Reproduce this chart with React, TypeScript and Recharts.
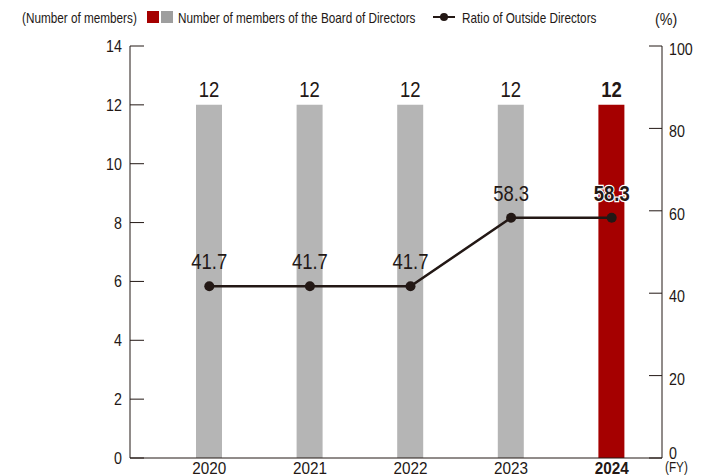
import React from "react"
import { ComposedChart, Bar, Line, XAxis, YAxis, LabelList, Cell } from "recharts"

const years = ["2020", "2021", "2022", "2023", "2024"]
const members = [12, 12, 12, 12, 12]
const outsideRatio = [41.7, 41.7, 41.7, 58.3, 58.3]
const leftTicks = [0, 2, 4, 6, 8, 10, 12, 14]
const rightTicks = [0, 20, 40, 60, 80, 100]

const data = years.map((year, i) => ({
  year,
  members: members[i],
  ratio: outsideRatio[i],
}))

const FONT = "'Liberation Sans', Arial, sans-serif"
const INK = "#231815"
const GRAY = "#b5b5b5"
const RED = "#a50000"
const SQUEEZE = 0.84
const lastIndex = years.length - 1

// narrow text, to look like the condensed face of the original
const NText = ({ x, y, anchor = "start", size = 16, bold = false, halo = false, sx = SQUEEZE, children }: any) => (
  <text
    transform={`translate(${x},${y}) scale(${sx},1)`}
    textAnchor={anchor}
    fontSize={size}
    fontWeight={bold ? 700 : 400}
    fill={INK}
    stroke={halo ? "#fff" : "none"}
    strokeWidth={halo ? 2.5 : 0}
    paintOrder="stroke"
    fontFamily={FONT}
  >
    {children}
  </text>
)

const LeftTick = (props: any) => {
  const { y, payload } = props
  return (
    <g>
      <line x1={130} x2={144} y1={y} y2={y} stroke={INK} strokeWidth={1} />
      <NText x={122} y={y + 6} anchor="end" size={17}>{payload.value}</NText>
    </g>
  )
}

const RightTick = (props: any) => {
  const { y, payload } = props
  // the bottom label sits a little higher so it clears "(FY)"
  const dy = payload.value === 0 ? 1 : 9
  return (
    <g>
      <line x1={649} x2={662} y1={y} y2={y} stroke={INK} strokeWidth={1} />
      <NText x={669} y={y + dy} size={17}>{payload.value}</NText>
    </g>
  )
}

const XTick = (props: any) => {
  const { x, payload, index } = props
  return (
    <NText x={x} y={474} anchor="middle" size={17} bold={index === lastIndex} sx={0.9}>
      {payload.value}
    </NText>
  )
}

const BarValue = (props: any) => {
  const { x, y, width, value, index } = props
  return (
    <NText x={x + width / 2} y={y - 8} anchor="middle" size={22} bold={index === lastIndex}>
      {value}
    </NText>
  )
}

const LineValue = (props: any) => {
  const { x, y, value, index } = props
  const bold = index === lastIndex
  return (
    <NText x={x} y={y - 17} anchor="middle" size={22} bold={bold} halo={bold}>
      {Number(value).toFixed(1)}
    </NText>
  )
}

export default function App() {
  return (
    <div style={{ position: "relative", width: 711, height: 476, margin: "-8px 0 0 -8px", overflow: "hidden", background: "#fff" }}>
      <ComposedChart width={711} height={476} data={data} margin={{ top: 46, right: 0, bottom: 0, left: 0 }}>
        <XAxis
          dataKey="year"
          height={18}
          padding={{ left: 29, right: 0 }}
          axisLine={{ stroke: INK, strokeWidth: 1 }}
          tickLine={false}
          tickSize={0}
          tick={<XTick />}
          interval={0}
        />
        <YAxis
          yAxisId="left"
          orientation="left"
          width={130}
          domain={[0, 14]}
          ticks={leftTicks}
          axisLine={{ stroke: INK, strokeWidth: 1 }}
          tickLine={false}
          tick={<LeftTick />}
          interval={0}
        />
        <YAxis
          yAxisId="right"
          orientation="right"
          width={49}
          domain={[0, 100]}
          ticks={rightTicks}
          axisLine={{ stroke: INK, strokeWidth: 1 }}
          tickLine={false}
          tick={<RightTick />}
          interval={0}
        />
        <Bar yAxisId="left" dataKey="members" barSize={26} isAnimationActive={false}>
          {data.map((_, i) => (
            <Cell key={i} fill={i === lastIndex ? RED : GRAY} />
          ))}
          <LabelList dataKey="members" content={<BarValue />} />
        </Bar>
        <Line
          yAxisId="right"
          dataKey="ratio"
          stroke={INK}
          strokeWidth={2.5}
          dot={{ r: 5, fill: INK, stroke: INK, strokeWidth: 0 }}
          isAnimationActive={false}
        >
          <LabelList dataKey="ratio" content={<LineValue />} />
        </Line>
      </ComposedChart>

      {/* Legend and unit captions */}
      <svg width={711} height={476} style={{ position: "absolute", left: 0, top: 0, pointerEvents: "none" }}>
        <NText x={22} y={23} size={14}>(Number of members)</NText>
        <rect x={147} y={11} width={12} height={12} fill={RED} />
        <rect x={161} y={11} width={12} height={12} fill="#9e9e9e" />
        <NText x={178} y={23} size={14}>Number of members of the Board of Directors</NText>
        <line x1={433} x2={455} y1={17} y2={17} stroke={INK} strokeWidth={2} />
        <circle cx={444} cy={17} r={4} fill={INK} />
        <NText x={462} y={23} size={14}>Ratio of Outside Directors</NText>
        <NText x={655} y={25} size={17}>(%)</NText>
        <NText x={665} y={472} size={14}>(FY)</NText>
        <line x1={0} x2={5} y1={456} y2={456} stroke={INK} strokeWidth={1} />
        <NText x={5} y={472} anchor="end" size={15}>0)</NText>
      </svg>
    </div>
  )
}
